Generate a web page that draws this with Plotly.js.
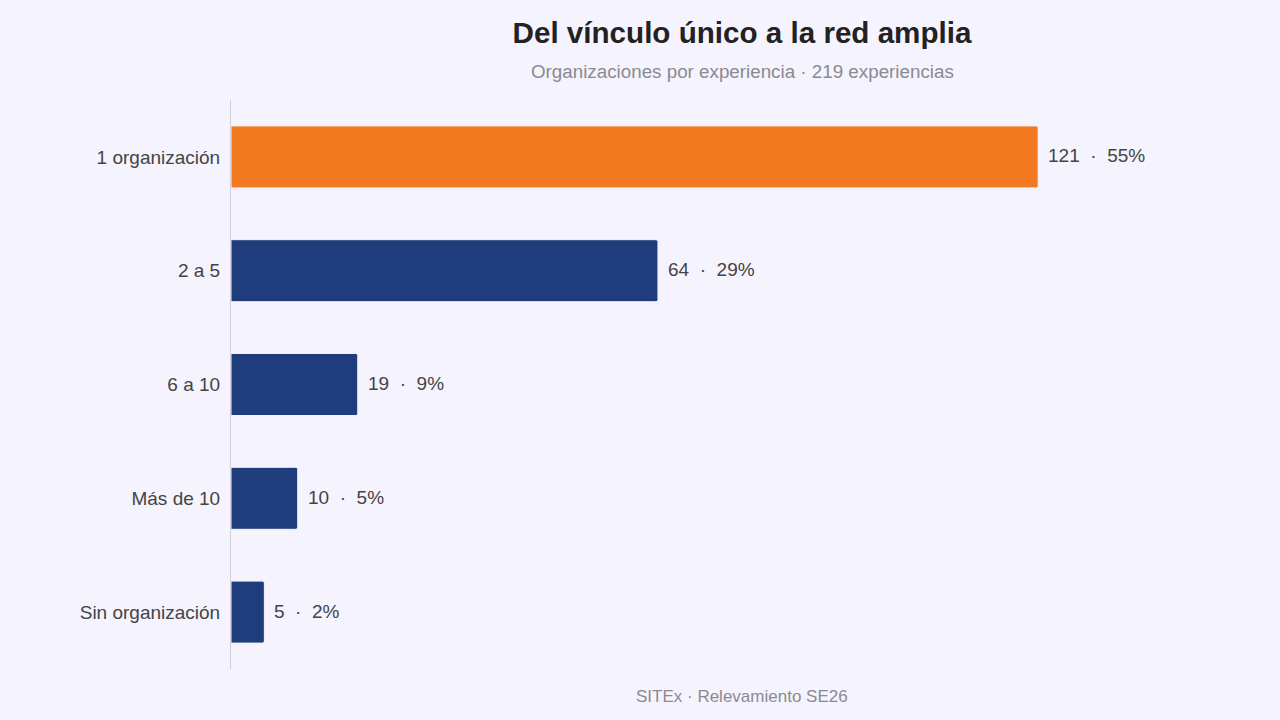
<!DOCTYPE html>
<html>
<head>
<meta charset="utf-8">
<script src="https://cdn.plot.ly/plotly-3.0.1.min.js"></script>
<style>
  html, body { margin: 0; padding: 0; background: #f5f3fd; }
  #chart { width: 1280px; height: 720px; }
</style>
</head>
<body>
<div id="chart"></div>
<script>
// datos del relevamiento
const categories = ['1 organización', '2 a 5', '6 a 10', 'Más de 10', 'Sin organización'];
const counts = [121, 64, 19, 10, 5];
const shares = [55, 29, 9, 5, 2];
const barColors = ['#f47a22', '#1f3d7c', '#1f3d7c', '#1f3d7c', '#1f3d7c'];

const FONT = 'Liberation Sans, Arial, sans-serif';

const bars = {
    type: 'bar',
    orientation: 'h',
    y: categories,
    x: counts,
    marker: {
        color: barColors,
        line: { color: '#f5f3fd', width: 1 }
    },
    width: 0.545,
    hoverinfo: 'none',
    showlegend: false
};

// etiquetas de valor a la derecha de cada barra
const valueLabels = categories.map((c, i) => ({
    x: counts[i],
    y: c,
    xref: 'x',
    yref: 'y',
    text: counts[i] + '  ·  ' + shares[i] + '%',
    showarrow: false,
    xanchor: 'left',
    yanchor: 'middle',
    xshift: 8,
    yshift: 1,
    font: { family: FONT, size: 19, color: '#444' }
}));

const layout = {
    width: 1280,
    height: 720,
    paper_bgcolor: '#f5f3fd',
    plot_bgcolor: '#f5f3fd',
    font: { family: FONT },
    margin: { l: 231, r: 27, t: 100, b: 51, autoexpand: false },
    title: {
        text: '<b>Del vínculo único a la red amplia</b>',
        font: { family: FONT, size: 29.6, color: '#222' },
        x: 0.5,
        xref: 'paper',
        xanchor: 'center',
        y: 0.955,
        yanchor: 'middle'
    },
    xaxis: {
        range: [0, 153.2],
        showgrid: false,
        zeroline: false,
        showticklabels: false,
        showline: false,
        fixedrange: true
    },
    yaxis: {
        autorange: 'reversed',
        showgrid: false,
        zeroline: false,
        showline: true,
        linecolor: '#d0ced6',
        linewidth: 1,
        ticks: '',
        ticklabelstandoff: 6,
        tickfont: { family: FONT, size: 19, color: '#444' },
        fixedrange: true
    },
    barcornerradius: 2,
    annotations: [
        {
            text: 'Organizaciones por experiencia · 219 experiencias',
            xref: 'paper', yref: 'paper',
            x: 0.5, y: 1.0495,
            xanchor: 'center', yanchor: 'middle',
            showarrow: false,
            font: { family: FONT, size: 18.8, color: '#8a8a90' }
        },
        {
            text: 'SITEx · Relevamiento SE26',
            xref: 'paper', yref: 'paper',
            x: 0.5, y: -0.0485,
            xanchor: 'center', yanchor: 'middle',
            showarrow: false,
            font: { family: FONT, size: 17, color: '#8a8a90' }
        }
    ].concat(valueLabels)
};

Plotly.newPlot('chart', [bars], layout, { displayModeBar: false, staticPlot: true });
</script>
</body>
</html>
